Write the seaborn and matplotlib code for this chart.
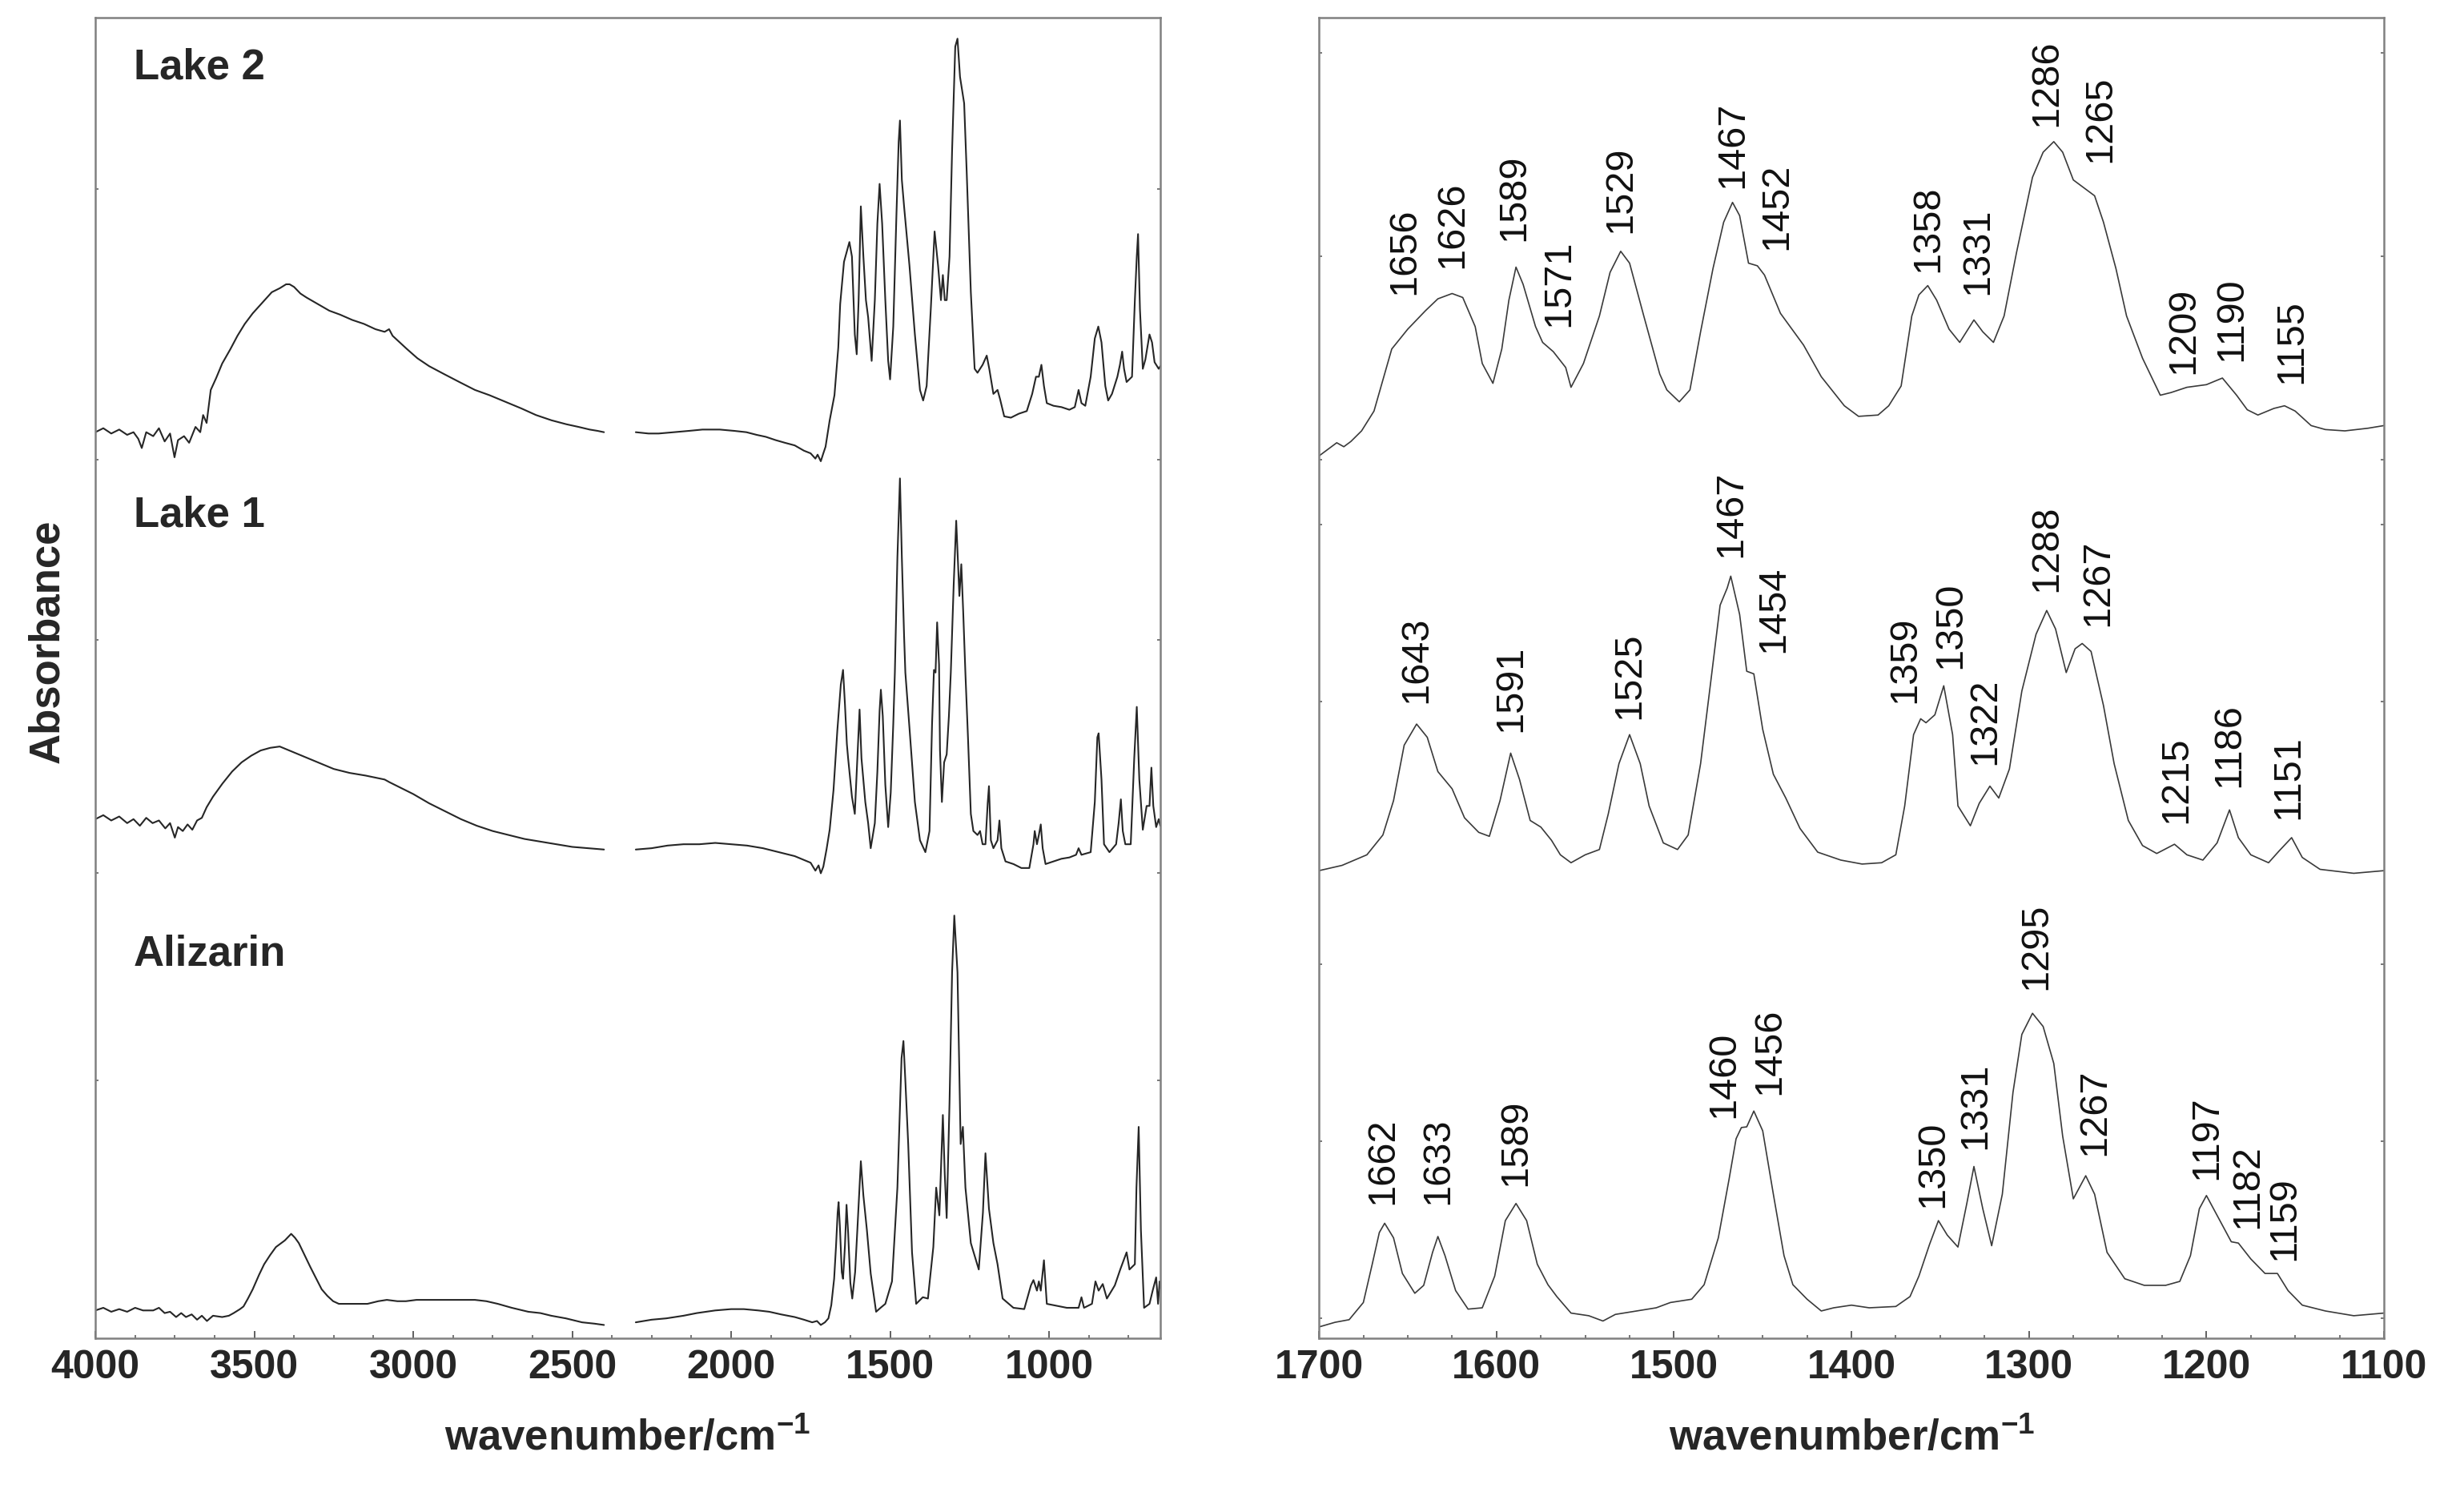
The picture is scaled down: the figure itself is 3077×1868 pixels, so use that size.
import pandas as pd
import seaborn as sns
import matplotlib.pyplot as plt
from matplotlib.ticker import MultipleLocator

# full range spectra (left panel), absorbance in arbitrary units, stacked
lake2_wn = [4000, 3975, 3950, 3925, 3900, 3880, 3865, 3854, 3840, 3818, 3800, 3782, 3765, 3751, 3740,
            3721, 3705, 3685, 3670, 3661, 3650, 3637, 3620, 3601, 3575, 3553, 3530, 3505, 3475, 3445,
            3420, 3400, 3389, 3375, 3355, 3336, 3300, 3264, 3230, 3192, 3155, 3119, 3090, 3076, 3065,
            3047, 3020, 2987, 2950, 2903, 2855, 2806, 2760, 2710, 2660, 2614, 2565, 2518, 2480, 2445,
            2420, 2400,
            2300, 2260, 2228, 2180, 2133, 2090, 2036, 1990, 1952, 1920, 1891, 1860, 1831, 1800, 1771,
            1750, 1735, 1728, 1718, 1710, 1703, 1690, 1675, 1663, 1657, 1645, 1628, 1620, 1611, 1605,
            1599, 1592, 1584, 1576, 1569, 1558, 1548, 1540, 1533, 1525, 1515, 1506, 1500, 1490, 1480,
            1473, 1469, 1463, 1456, 1439, 1422, 1406, 1396, 1385, 1372, 1360, 1349, 1340, 1334, 1328,
            1322, 1313, 1305, 1295, 1288, 1280, 1267, 1259, 1246, 1234, 1225, 1209, 1196, 1188, 1175,
            1162, 1154, 1141, 1120, 1095, 1070, 1053, 1041, 1032, 1024, 1016, 1007, 986, 961, 936,
            919, 907, 898, 886, 869, 856, 845, 835, 823, 814, 802, 785, 777, 770, 764,
            756, 739, 730, 724, 720, 714, 705, 697, 684, 676, 668, 655, 650]
lake2_ab = [68.6, 68.9, 68.5, 68.8, 68.4, 68.6, 68.1, 67.4, 68.6, 68.3, 68.9, 67.9, 68.5, 66.7, 68.0,
            68.3, 67.8, 69.0, 68.6, 69.9, 69.3, 71.8, 72.7, 73.8, 74.9, 75.9, 76.8, 77.6, 78.4, 79.2,
            79.5, 79.8, 79.8, 79.6, 79.1, 78.8, 78.3, 77.8, 77.5, 77.1, 76.8, 76.4, 76.2, 76.4, 75.9,
            75.5, 74.9, 74.2, 73.6, 73.0, 72.4, 71.8, 71.4, 70.9, 70.4, 69.9, 69.5, 69.2, 69.0, 68.8,
            68.7, 68.6,
            68.6, 68.5, 68.5, 68.6, 68.7, 68.8, 68.8, 68.7, 68.6, 68.4, 68.25, 68.0, 67.8, 67.6, 67.2,
            67.0, 66.6, 66.9, 66.4, 67.0, 67.5, 69.5, 71.4, 75.0, 78.3, 81.5, 83.0, 81.9, 76.0, 74.5,
            78.6, 85.7, 81.9, 78.6, 77.3, 74.0, 78.6, 84.4, 87.4, 84.4, 78.6, 74.0, 72.6, 76.6, 85.1,
            90.6, 92.2, 87.7, 85.7, 81.2, 76.0, 71.8, 71.0, 72.1, 77.9, 83.8, 81.2, 78.6, 80.5, 78.6,
            78.6, 81.9, 89.9, 97.8, 98.4, 95.5, 93.5, 88.3, 79.2, 73.4, 73.1, 73.7, 74.4, 73.4, 71.5,
            71.8, 71.1, 69.8, 69.7, 70.0, 70.2, 71.5, 72.8, 72.8, 73.7, 72.1, 70.8, 70.6, 70.5, 70.3,
            70.5, 71.8, 70.8, 70.6, 72.8, 75.7, 76.6, 75.4, 72.1, 71.0, 71.5, 72.8, 73.7, 74.7, 73.4,
            72.4, 72.8, 78.6, 81.9, 83.6, 77.9, 73.4, 74.1, 76.0, 75.4, 73.9, 73.4, 73.6]

lake1_wn = [4000, 3975, 3950, 3925, 3900, 3880, 3860, 3840, 3820, 3800, 3780, 3765, 3750, 3740, 3725,
            3710, 3695, 3680, 3665, 3650, 3630, 3600, 3570, 3540, 3510, 3480, 3450, 3420, 3400, 3370,
            3340, 3300, 3250, 3200, 3150, 3110, 3090, 3075, 3050, 3000, 2950, 2900, 2850, 2800, 2750,
            2700, 2650, 2600, 2550, 2500, 2450, 2400,
            2300, 2250, 2200, 2150, 2100, 2050, 2000, 1950, 1900, 1850, 1800, 1770, 1750, 1735, 1725,
            1718, 1710, 1700, 1690, 1678, 1666, 1655, 1648, 1642, 1636, 1632, 1620, 1611, 1603, 1596,
            1590, 1578, 1569, 1561, 1548, 1540, 1533, 1529, 1523, 1515, 1506, 1498, 1490, 1485, 1477,
            1469, 1463, 1456, 1452, 1439, 1422, 1406, 1389, 1376, 1368, 1362, 1357, 1352, 1346, 1343,
            1337, 1330, 1322, 1315, 1309, 1300, 1292, 1286, 1282, 1276, 1270, 1263, 1255, 1246, 1238,
            1225, 1217, 1209, 1200, 1193, 1189, 1183, 1175, 1162, 1156, 1150, 1137, 1112, 1087, 1062,
            1049, 1045, 1038, 1032, 1026, 1020, 1011, 986, 961, 936, 915, 907, 898, 869, 856,
            848, 844, 835, 827, 810, 789, 781, 774, 768, 760, 743, 732, 724, 716, 705,
            693, 684, 678, 672, 663, 655, 650]
lake1_ab = [39.3, 39.6, 39.2, 39.5, 39.0, 39.3, 38.8, 39.4, 39.0, 39.2, 38.6, 39.0, 37.9, 38.7, 38.4,
            38.9, 38.5, 39.2, 39.4, 40.2, 41.0, 42.0, 42.9, 43.6, 44.1, 44.5, 44.7, 44.8, 44.6, 44.3,
            44.0, 43.6, 43.1, 42.8, 42.6, 42.4, 42.3, 42.1, 41.8, 41.2, 40.5, 39.9, 39.3, 38.8, 38.4,
            38.1, 37.8, 37.6, 37.4, 37.2, 37.1, 37.0,
            37.0, 37.1, 37.3, 37.4, 37.4, 37.5, 37.4, 37.3, 37.1, 36.8, 36.5, 36.2, 36.0, 35.4, 35.8,
            35.2, 35.7, 37.0, 38.5, 41.5, 46.0, 49.5, 50.6, 48.0, 45.0, 43.9, 41.0, 39.7, 43.9, 47.6,
            43.9, 40.6, 39.0, 37.1, 39.0, 42.9, 47.5, 49.1, 47.1, 41.9, 38.7, 41.3, 46.5, 50.4, 59.1,
            65.1, 59.1, 53.2, 50.4, 46.2, 40.6, 37.7, 36.8, 38.4, 46.5, 50.6, 50.4, 54.2, 51.0, 44.5,
            40.6, 43.6, 44.2, 47.1, 50.4, 57.0, 61.9, 58.5, 56.2, 58.6, 55.0, 50.3, 45.5, 39.7, 38.4,
            38.1, 38.4, 37.4, 37.4, 40.5, 41.8, 37.7, 37.1, 37.7, 39.2, 37.1, 36.1, 35.9, 35.6, 35.6,
            37.4, 38.4, 37.4, 38.1, 38.9, 37.1, 35.9, 36.1, 36.3, 36.4, 36.6, 37.1, 36.6, 36.8, 40.6,
            45.5, 45.8, 42.3, 37.4, 36.8, 37.4, 39.0, 40.8, 38.4, 37.4, 37.4, 43.9, 47.8, 42.3, 38.5,
            40.3, 40.3, 43.2, 40.3, 38.7, 39.3, 38.8]

aliz_wn = [4000, 3975, 3950, 3925, 3900, 3875, 3850, 3818, 3800, 3782, 3765, 3746, 3730, 3715, 3697,
           3680, 3665, 3649, 3630, 3601, 3580, 3565, 3545, 3534, 3520, 3505, 3485, 3469, 3450, 3432,
           3404, 3384, 3372, 3360, 3342, 3324, 3305, 3288, 3270, 3252, 3234, 3216, 3180, 3144, 3110,
           3083, 3050, 3023, 2990, 2951, 2900, 2850, 2806, 2770, 2734, 2690, 2638, 2600, 2566, 2520,
           2469, 2430, 2400,
           2300, 2250, 2204, 2150, 2108, 2050, 2000, 1960, 1915, 1880, 1843, 1800, 1771, 1745, 1730,
           1718, 1705, 1694, 1685, 1676, 1670, 1665, 1662, 1658, 1652, 1648, 1642, 1637, 1632, 1625,
           1619, 1610, 1603, 1592, 1584, 1573, 1561, 1544, 1530, 1515, 1494, 1477, 1464, 1458, 1452,
           1443, 1431, 1418, 1397, 1381, 1364, 1355, 1345, 1334, 1328, 1322, 1313, 1305, 1298, 1288,
           1278, 1271, 1263, 1246, 1221, 1208, 1200, 1189, 1175, 1162, 1146, 1112, 1078, 1057, 1049,
           1038, 1032, 1026, 1016, 1007, 986, 944, 907, 898, 890, 865, 854, 844, 831, 818,
           793, 776, 756, 747, 730, 725, 718, 711, 701, 684, 674, 663, 657, 652, 650]
aliz_ab = [2.1, 2.3, 2.0, 2.2, 2.0, 2.3, 2.1, 2.1, 2.3, 1.9, 2.0, 1.6, 1.9, 1.6, 1.8,
           1.4, 1.7, 1.3, 1.7, 1.6, 1.7, 1.9, 2.2, 2.4, 3.0, 3.7, 4.8, 5.6, 6.3, 6.9,
           7.4, 7.9, 7.6, 7.2, 6.3, 5.4, 4.5, 3.7, 3.2, 2.8, 2.6, 2.6, 2.6, 2.6, 2.8,
           2.9, 2.8, 2.8, 2.9, 2.9, 2.9, 2.9, 2.9, 2.8, 2.6, 2.3, 2.0, 1.9, 1.7, 1.5,
           1.2, 1.1, 1.0,
           1.2, 1.4, 1.5, 1.7, 1.9, 2.1, 2.2, 2.2, 2.1, 2.0, 1.8, 1.6, 1.4, 1.2, 1.3,
           1.0, 1.2, 1.5, 2.5, 4.5, 7.0, 9.5, 10.3, 8.5, 5.0, 4.5, 7.0, 10.1, 8.0, 4.2,
           3.0, 5.0, 8.2, 13.4, 10.8, 8.2, 4.9, 2.0, 2.3, 2.6, 4.3, 11.4, 21.2, 22.5, 19.5,
           14.7, 6.5, 2.6, 3.1, 3.0, 6.9, 11.4, 9.3, 16.9, 12.4, 9.1, 17.9, 27.7, 32.0, 27.7,
           14.7, 16.0, 11.4, 7.2, 5.2, 9.5, 14.0, 9.8, 7.2, 5.6, 3.0, 2.3, 2.2, 4.0, 4.4,
           3.6, 4.3, 3.6, 5.9, 2.6, 2.5, 2.3, 2.3, 3.1, 2.3, 2.6, 4.3, 3.6, 4.1, 3.0,
           4.0, 5.2, 6.5, 5.2, 5.6, 11.4, 16.0, 8.2, 2.3, 2.6, 3.6, 4.6, 2.6, 4.3, 3.8]

# 1700-1100 region (right panel)
lake2_z_wn = [1700, 1695, 1690, 1686, 1682, 1676, 1669, 1659, 1650, 1640, 1633, 1625, 1619, 1612, 1608,
              1602, 1597, 1593, 1589, 1585, 1578, 1574, 1568, 1561, 1558, 1551, 1542, 1536, 1530, 1525,
              1517, 1508, 1504, 1497, 1491, 1485, 1478, 1472, 1467, 1463, 1458, 1453, 1449, 1440, 1427,
              1417, 1404, 1396, 1385, 1379, 1372, 1366, 1362, 1357, 1352, 1345, 1339, 1331, 1326, 1320,
              1314, 1307, 1298, 1292, 1286, 1281, 1275, 1268, 1263, 1258, 1251, 1245, 1236, 1226, 1220,
              1211, 1200, 1191, 1183, 1177, 1171, 1162, 1156, 1150, 1141, 1133, 1122, 1109, 1100]
lake2_z_ab = [66.8, 67.3, 67.8, 67.5, 67.9, 68.7, 70.2, 74.9, 76.4, 77.8, 78.7, 79.1, 78.8, 76.6, 73.8,
              72.3, 74.9, 78.6, 81.1, 79.8, 76.6, 75.4, 74.7, 73.5, 72.0, 73.8, 77.4, 80.7, 82.3, 81.4,
              77.4, 73.0, 71.8, 70.9, 71.8, 76.2, 81.0, 84.5, 86.0, 85.0, 81.4, 81.2, 80.5, 77.6, 75.2,
              72.8, 70.6, 69.8, 69.9, 70.6, 72.1, 77.4, 79.0, 79.7, 78.6, 76.4, 75.4, 77.1, 76.2, 75.4,
              77.4, 82.2, 87.9, 89.8, 90.6, 89.8, 87.7, 87.0, 86.5, 84.5, 81.0, 77.4, 74.2, 71.4, 71.6,
              72.0, 72.2, 72.7, 71.4, 70.3, 69.9, 70.4, 70.6, 70.2, 69.1, 68.8, 68.7, 68.9, 69.1]

lake1_z_wn = [1700, 1687, 1673, 1664, 1658, 1652, 1645, 1639, 1633, 1625, 1618, 1610, 1604, 1598, 1592,
              1587, 1581, 1575, 1569, 1564, 1558, 1550, 1542, 1537, 1531, 1525, 1519, 1514, 1506, 1498,
              1492, 1485, 1479, 1474, 1470, 1468, 1463, 1459, 1455, 1450, 1444, 1437, 1429, 1419, 1406,
              1394, 1383, 1375, 1370, 1365, 1361, 1358, 1353, 1348, 1343, 1340, 1333, 1328, 1322, 1317,
              1311, 1304, 1296, 1290, 1285, 1279, 1274, 1270, 1265, 1258, 1252, 1244, 1236, 1228, 1218,
              1211, 1202, 1194, 1187, 1182, 1175, 1165, 1159, 1152, 1146, 1136, 1117, 1100]
lake1_z_ab = [35.4, 35.8, 36.6, 38.1, 40.7, 44.9, 46.5, 45.5, 42.9, 41.6, 39.4, 38.3, 38.0, 40.7, 44.3,
              42.3, 39.2, 38.7, 37.7, 36.6, 36.0, 36.6, 37.0, 39.7, 43.5, 45.7, 43.5, 40.3, 37.5, 37.0,
              38.1, 43.5, 50.0, 55.5, 56.8, 57.7, 54.8, 50.5, 50.3, 46.1, 42.7, 40.9, 38.6, 36.8, 36.2,
              35.9, 36.0, 36.6, 40.3, 45.7, 46.9, 46.6, 47.2, 49.4, 45.7, 40.3, 38.8, 40.5, 41.8, 40.9,
              43.1, 49.0, 53.3, 55.1, 53.7, 50.4, 52.2, 52.6, 52.0, 47.9, 43.5, 39.2, 37.3, 36.7, 37.4,
              36.6, 36.2, 37.5, 40.0, 37.9, 36.6, 36.0, 36.9, 37.9, 36.4, 35.5, 35.2, 35.4]

aliz_z_wn = [1700, 1691, 1683, 1675, 1670, 1666, 1663, 1658, 1653, 1646, 1641, 1636, 1633, 1629, 1623,
             1616, 1608, 1601, 1595, 1589, 1583, 1577, 1571, 1566, 1558, 1548, 1540, 1533, 1521, 1510,
             1502, 1490, 1483, 1475, 1469, 1465, 1462, 1459, 1455, 1450, 1444, 1438, 1433, 1425, 1417,
             1410, 1400, 1390, 1375, 1367, 1362, 1356, 1351, 1346, 1340, 1335, 1331, 1326, 1321, 1315,
             1309, 1304, 1298, 1292, 1286, 1281, 1275, 1268, 1263, 1256, 1246, 1235, 1223, 1215, 1209,
             1204, 1200, 1194, 1186, 1182, 1175, 1167, 1160, 1154, 1146, 1133, 1117, 1100]
aliz_z_ab = [0.85, 1.2, 1.4, 2.7, 5.6, 8.0, 8.7, 7.6, 4.9, 3.4, 4.0, 6.5, 7.7, 6.25, 3.6,
             2.2, 2.3, 4.7, 8.9, 10.2, 8.9, 5.6, 4.05, 3.15, 1.9, 1.7, 1.3, 1.8, 2.06, 2.3,
             2.7, 2.95, 4.05, 7.6, 12.0, 15.1, 15.95, 16.0, 17.2, 15.7, 10.9, 6.25, 4.05, 2.95, 2.06,
             2.3, 2.5, 2.3, 2.4, 3.15, 4.7, 7.1, 8.9, 7.8, 6.9, 10.2, 13.0, 9.8, 7.0, 10.9,
             18.6, 23.0, 24.6, 23.6, 20.8, 15.3, 10.55, 12.3, 10.9, 6.5, 4.5, 4.0, 4.0, 4.3, 6.25,
             9.8, 10.8, 9.3, 7.3, 7.2, 6.0, 4.9, 4.9, 3.6, 2.5, 2.06, 1.7, 1.9]

sample_names = ["Lake 2", "Lake 1", "Alizarin"]

# band assignments written over the zoomed spectra
lake2_bands = [1656, 1626, 1589, 1571, 1529, 1467, 1452, 1358, 1331, 1286, 1265, 1209, 1190, 1155]
lake1_bands = [1643, 1591, 1525, 1467, 1454, 1359, 1350, 1322, 1288, 1267, 1215, 1186, 1151]
aliz_bands = [1662, 1633, 1589, 1460, 1456, 1350, 1331, 1295, 1267, 1197, 1182, 1159]

# where each band label sits (x in wavenumber, y = bottom of label)
lake2_tag_x = [1652, 1625, 1590, 1565, 1530, 1467, 1442, 1357, 1329, 1290, 1260, 1213, 1186, 1152]
lake2_tag_y = [79.0, 81.0, 83.1, 76.6, 83.7, 87.1, 82.4, 80.7, 79.0, 91.75, 89.0, 73.0, 74.0, 72.3]
lake1_tag_x = [1645, 1592, 1525, 1468, 1444, 1370, 1344, 1325, 1290, 1261, 1217, 1187, 1154]
lake1_tag_y = [48.1, 45.9, 46.9, 59.1, 51.9, 48.1, 50.7, 43.4, 56.5, 53.9, 39.0, 41.7, 39.3]
aliz_tag_x = [1664, 1633, 1589, 1472, 1446, 1354, 1330, 1296, 1263, 1200, 1177, 1156]
aliz_tag_y = [10.1, 10.1, 11.5, 16.7, 18.4, 9.9, 14.3, 26.4, 13.85, 12.0, 8.3, 5.9]

sns.set_theme(style="white")
plt.rcParams["font.family"] = ["Liberation Sans", "DejaVu Sans"]
plt.rcParams["mathtext.fontset"] = "custom"
plt.rcParams["mathtext.rm"] = "Liberation Sans"
plt.rcParams["mathtext.bf"] = "Liberation Sans:bold"

fig = plt.figure(figsize=(30.77, 18.68), dpi=100)
axL = fig.add_axes([0.0387, 0.1055, 0.4322, 0.8828])
axR = fig.add_axes([0.5353, 0.1055, 0.4322, 0.8828])

# left: full range, the 2400-2300 region is cut out
for wn, ab in [(lake2_wn, lake2_ab), (lake1_wn, lake1_ab), (aliz_wn, aliz_ab)]:
    df = pd.DataFrame({"wn": wn, "ab": ab})
    df["seg"] = (df["wn"] < 2350).astype(int)
    sns.lineplot(data=df, x="wn", y="ab", units="seg", estimator=None, sort=False,
                 color="#262626", lw=1.5, ax=axL)

# right: zoomed fingerprint region
for wn, ab in [(lake2_z_wn, lake2_z_ab), (lake1_z_wn, lake1_z_ab), (aliz_z_wn, aliz_z_ab)]:
    df = pd.DataFrame({"wn": wn, "ab": ab})
    sns.lineplot(data=df, x="wn", y="ab", estimator=None, sort=False,
                 color="#3a3a3a", lw=1.2, ax=axR)

for name, y in zip(sample_names, [96.2, 62.3, 29.1]):
    axL.text(3880, y, name, fontsize=38, fontweight="bold", ha="left", va="center")

for bands, tx, ty in [(lake2_bands, lake2_tag_x, lake2_tag_y),
                      (lake1_bands, lake1_tag_x, lake1_tag_y),
                      (aliz_bands, aliz_tag_x, aliz_tag_y)]:
    for b, x, y in zip(bands, tx, ty):
        axR.text(x, y, str(b), rotation=90, ha="center", va="bottom", fontsize=35, color="#111111")

axL.set_xlim(4000, 650)
axR.set_xlim(1700, 1100)
axL.set_xticks([4000, 3500, 3000, 2500, 2000, 1500, 1000])
axR.set_xticks([1700, 1600, 1500, 1400, 1300, 1200, 1100])
axL.xaxis.set_minor_locator(MultipleLocator(125))
axR.xaxis.set_minor_locator(MultipleLocator(25))
axL.set_yticks([87.0, 66.5, 52.9, 35.2, 19.5])
axR.set_yticks([97.3, 81.9, 66.5, 61.6, 48.2, 28.3, 14.9, 1.5])

for ax in (axL, axR):
    ax.set_ylim(0, 100)
    ax.set_yticklabels([])
    ax.set_ylabel("")
    ax.set_xlabel(r"wavenumber/cm$^{\mathbf{-1}}$", fontsize=38, fontweight="bold", va="baseline")
    ax.xaxis.set_label_coords(0.5, -0.085)
    ax.tick_params(axis="x", which="major", direction="in", length=6.5, width=1.4,
                   color="#606060", labelsize=36, pad=10, top=False, bottom=True)
    ax.tick_params(axis="x", which="minor", direction="in", length=3.2, width=1.2,
                   color="#606060", top=False, bottom=True)
    ax.tick_params(axis="y", which="major", direction="in", length=3, width=1.2,
                   color="#606060", left=True, right=True)
    for lab in ax.get_xticklabels():
        lab.set_fontweight("bold")
    for sp in ax.spines.values():
        sp.set_visible(True)
        sp.set_color("#808080")
        sp.set_linewidth(1.8)

fig.text(59 / 3077, 1 - 801 / 1868, "Absorbance", rotation=90, fontsize=38,
         fontweight="bold", ha="center", va="center")

fig.savefig("out.png", dpi=100)
